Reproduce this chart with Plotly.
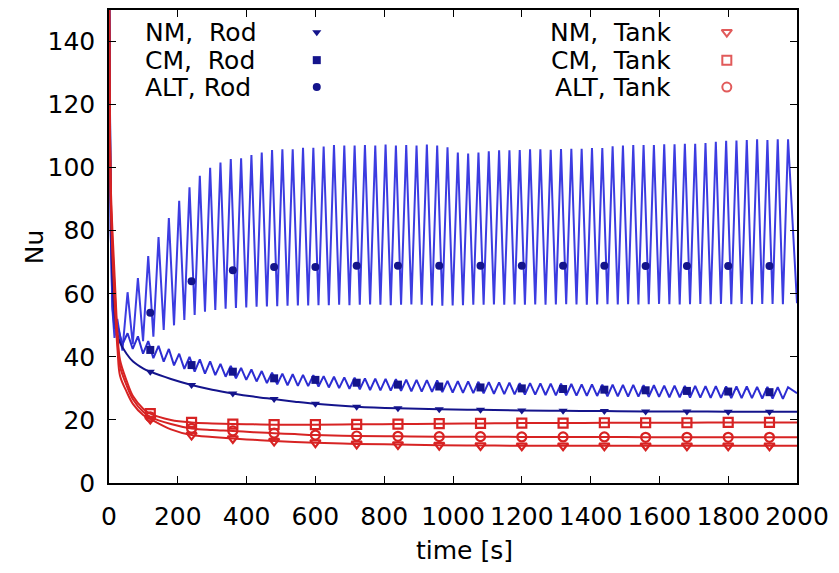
import plotly.graph_objects as go

# --- smooth curves (NM rod and the three tank curves), time in s ---
t_smooth = [0, 2, 5, 10, 17, 25, 32, 51, 70, 100, 120, 180, 240, 300, 360, 420,
            480, 540, 600, 720, 840, 960, 1080, 1200, 1320, 1440, 1560, 1680,
            1800, 1920, 2000]
nm_rod = [170, 125, 90, 65, 53, 47, 44.5, 41, 38.5, 36.3, 35.3, 33.0, 31.1, 29.6,
          28.4, 27.4, 26.6, 25.8, 25.1, 24.2, 23.7, 23.4, 23.2, 23.0, 22.9, 22.8,
          22.7, 22.7, 22.6, 22.6, 22.6]
cm_tank = [170, 120, 95, 80, 64, 47, 39, 32.5, 27.5, 23.5, 22.0, 20.0, 19.2, 18.9,
           18.7, 18.6, 18.5, 18.5, 18.5, 18.6, 18.7, 18.8, 18.9, 19.0, 19.0, 19.1,
           19.1, 19.1, 19.2, 19.2, 19.2]
alt_tank = [170, 118, 92, 76, 60, 45, 37, 31, 26.5, 22.5, 21.0, 18.7, 17.3, 16.8,
            16.5, 16.1, 15.8, 15.5, 15.2, 14.9, 14.8, 14.7, 14.7, 14.6, 14.6, 14.6,
            14.5, 14.5, 14.5, 14.5, 14.5]
nm_tank = [170, 115, 90, 72, 56, 42, 34, 29, 25, 21.5, 20.3, 17.0, 15.2, 14.6,
           14.1, 13.7, 13.3, 13.0, 12.8, 12.4, 12.2, 12.0, 11.9, 11.8, 11.8, 11.8,
           11.8, 11.8, 11.8, 11.8, 11.8]

# --- oscillating rod curves: start, then alternating peaks / troughs ---
t_start = [0, 2, 5, 10, 16]
alt_start = [170, 120, 80, 55, 46]
cm_start = [170, 120, 80, 56, 49]

peak_t = [24, 54, 84, 114, 144, 174, 204, 234, 264, 294, 324, 354, 384, 414, 444,
          474, 504, 534, 564, 594, 624, 654, 684, 714, 744, 774, 804, 834, 864,
          894, 924, 954, 984, 1014, 1044, 1074, 1104, 1134, 1164, 1194, 1224, 1254,
          1284, 1314, 1344, 1374, 1404, 1434, 1464, 1494, 1524, 1554, 1584, 1614,
          1644, 1674, 1704, 1734, 1764, 1794, 1824, 1854, 1884, 1914, 1944, 1974]
trough_t = [39, 69, 99, 129, 159, 189, 219, 249, 279, 309, 339, 369, 399, 429, 459,
            489, 519, 549, 579, 609, 639, 669, 699, 729, 759, 789, 819, 849, 879,
            909, 939, 969, 999, 1029, 1059, 1089, 1119, 1149, 1179, 1209, 1239,
            1269, 1299, 1329, 1359, 1389, 1419, 1449, 1479, 1509, 1539, 1569, 1599,
            1629, 1659, 1689, 1719, 1749, 1779, 1809, 1839, 1869, 1899, 1929, 1959]
t_end = 2000

alt_peak = [52, 60.5, 65, 72, 78, 84, 89.5, 93.8, 97.4, 100, 101.6, 102.7, 103, 104,
            104.8, 105.6, 105.8, 105.8, 106.3, 106.3, 106.7, 107.2, 107, 107,
            107.2, 107, 107.3, 107, 107.2, 107, 107.3, 107, 106.5,
            104.8, 104.5, 104.8, 105.2, 105.5,
            105.5, 105.6, 105.8, 105.8, 105.7, 105.9, 106, 106,
            106.2, 106.2,
            106.8, 107, 107.2, 107.2, 107.2, 107.4, 107.4, 107.6, 107.6, 107.8,
            108.2, 108.5, 108.6, 108.8, 109, 108.8, 109, 109]
alt_trough = [42, 44, 45, 46.4, 48.5, 50, 51.7, 53.3, 54.3, 54.9, 55.3, 55.5, 55.7,
              55.9, 56.0, 56.1, 56.2, 56.3, 56.3, 56.4,
              56.4, 56.5, 56.4, 56.5, 56.6, 56.5, 56.4, 56.5, 56.6, 56.5,
              56.3, 56.2, 56.3, 56.4, 56.5, 56.5, 56.6, 56.5, 56.6, 56.5,
              56.6, 56.5, 56.6, 56.7, 56.6, 56.5, 56.6, 56.7, 56.6, 56.7,
              56.6, 56.7, 56.8, 56.7, 56.6, 56.7, 56.8, 56.7, 56.8, 56.7,
              56.8, 56.7, 56.8, 56.8, 56.7]
alt_end = 57

cm_peak = [50, 47.5, 46.5, 45, 43.5, 42.5, 41, 40, 39.2, 38.6, 37.8, 37.1, 36.5,
           36.0, 35.5, 35.0, 34.7, 34.5, 34.3, 34.2, 33.9, 33.7, 33.5, 33.4,
           33.2, 33.1, 33.0, 32.9, 32.8, 32.7, 32.6, 32.5, 32.4, 32.3, 32.2, 32.1,
           32.0, 31.9, 31.8, 31.7, 31.7, 31.6, 31.5, 31.5, 31.4, 31.3, 31.3, 31.2,
           31.2, 31.1, 31.1, 31.0, 31.0, 30.9, 30.9, 30.8, 30.8, 30.7, 30.7, 30.6,
           30.6, 30.6, 30.5, 30.5, 30.4, 30.4]
cm_trough = [44, 42.5, 41, 39.6, 38.5, 37.3, 36.2, 35.3, 34.7, 34.2, 33.7, 33.2,
             32.7, 32.2, 31.7, 31.3, 31.0, 30.8, 30.7, 30.6, 30.3, 30.1, 29.9,
             29.7, 29.5, 29.4, 29.3, 29.2, 29.1, 29.0, 28.9, 28.8, 28.7, 28.6,
             28.5, 28.4, 28.3, 28.2, 28.1, 28.0, 28.0, 27.9, 27.8, 27.8, 27.7,
             27.6, 27.6, 27.5, 27.5, 27.4, 27.4, 27.3, 27.3, 27.2, 27.2, 27.1,
             27.1, 27.0, 27.0, 26.9, 26.9, 26.9, 26.8, 26.8, 26.7]
cm_end = 28.5

# --- point markers every 120 s ---
mark_t = [120, 240, 360, 480, 600, 720, 840, 960, 1080, 1200, 1320, 1440, 1560,
          1680, 1800, 1920]
alt_rod_mark = [54, 64, 67.5, 68.5, 68.5, 68.9, 68.9, 68.9, 68.9, 68.9, 68.9, 68.9,
                68.8, 68.8, 68.8, 68.8]
cm_rod_mark = [42.2, 37.4, 35.3, 33.2, 32.7, 31.8, 31.2, 30.6, 30.3, 30.0, 29.8,
               29.6, 29.4, 29.2, 29.0, 28.8]

legend_rod = ["NM,  Rod", "CM,  Rod", "ALT, Rod"]
legend_tank = ["NM,  Tank", "CM,  Tank", "ALT, Tank"]


def osc(start_t, start_v, peaks, troughs, end_v):
    xs, ys = list(start_t), list(start_v)
    for i in range(len(peak_t)):
        xs.append(peak_t[i]); ys.append(peaks[i])
        if i < len(trough_t):
            xs.append(trough_t[i]); ys.append(troughs[i])
    xs.append(t_end); ys.append(end_v)
    return xs, ys


def at_marks(vals):
    return [v for t, v in zip(t_smooth, vals) if t in mark_t]


BLUE = "rgb(45,45,210)"
NAVY = "rgb(20,20,140)"
RED = "rgb(215,35,35)"

fig = go.Figure()

ax, ay = osc(t_start, alt_start, alt_peak, alt_trough, alt_end)
cx, cy = osc(t_start, cm_start, cm_peak, cm_trough, cm_end)
fig.add_trace(go.Scatter(x=ax, y=ay, mode="lines", line=dict(color="rgb(60,60,225)", width=2)))
fig.add_trace(go.Scatter(x=cx, y=cy, mode="lines", line=dict(color=BLUE, width=2)))
fig.add_trace(go.Scatter(x=t_smooth, y=nm_rod, mode="lines", line=dict(color=NAVY, width=2, shape="spline")))

fig.add_trace(go.Scatter(x=mark_t, y=at_marks(nm_rod), mode="markers",
                         marker=dict(symbol="triangle-down", size=8, color=NAVY)))
fig.add_trace(go.Scatter(x=mark_t, y=cm_rod_mark, mode="markers",
                         marker=dict(symbol="square", size=8, color=NAVY)))
fig.add_trace(go.Scatter(x=mark_t, y=alt_rod_mark, mode="markers",
                         marker=dict(symbol="circle", size=8, color=NAVY)))

for vals, sym in [(cm_tank, "square-open"), (alt_tank, "circle-open"), (nm_tank, "triangle-down-open")]:
    fig.add_trace(go.Scatter(x=t_smooth, y=vals, mode="lines",
                             line=dict(color=RED, width=2, shape="spline")))
    fig.add_trace(go.Scatter(x=mark_t, y=at_marks(vals), mode="markers",
                             marker=dict(symbol=sym, size=9, color=RED, line=dict(width=2.2, color=RED))))

# legend keys (gnuplot style: text, then sample to the right)
row_y = [0.953, 0.894, 0.837]
rod_syms = ["triangle-down", "square", "circle"]
tank_syms = ["triangle-down-open", "square-open", "circle-open"]
fig.add_trace(go.Scatter(x=[0.302] * 3, y=row_y, xaxis="x2", yaxis="y2", mode="markers",
                         marker=dict(symbol=rod_syms, size=8, color=NAVY)))
fig.add_trace(go.Scatter(x=[0.898] * 3, y=row_y, xaxis="x2", yaxis="y2", mode="markers",
                         marker=dict(symbol=tank_syms, size=9, color="rgb(225,90,90)",
                                     line=dict(width=2, color="rgb(225,90,90)"))))
for i in range(3):
    fig.add_annotation(x=0.051, y=row_y[i], xref="paper", yref="paper", text=legend_rod[i],
                       showarrow=False, xanchor="left", yanchor="middle", height=26,
                       borderpad=0, font=dict(size=25))
    fig.add_annotation(x=0.818, y=row_y[i], xref="paper", yref="paper", text=legend_tank[i],
                       showarrow=False, xanchor="right", yanchor="middle", height=26,
                       borderpad=0, font=dict(size=25))

# axis titles
fig.add_annotation(x=-0.108, y=0.5, xref="paper", yref="paper", text="Nu", textangle=-90,
                   showarrow=False, xanchor="center", yanchor="middle")
fig.add_annotation(x=0.517, y=-0.142, xref="paper", yref="paper", text="time [s]",
                   showarrow=False, xanchor="center", yanchor="middle")

axis_style = dict(showline=True, linecolor="black", linewidth=1.5, mirror="ticks",
                  ticks="inside", ticklen=7, tickwidth=1.2, tickcolor="black",
                  showgrid=False, zeroline=False, automargin=False)
# the page adds an 8px body margin, so the figure is shifted up/left by that
fig.update_layout(
    width=839, height=573,
    margin=dict(l=101, r=50, t=2, b=98),
    plot_bgcolor="white", paper_bgcolor="white",
    showlegend=False,
    font=dict(family="DejaVu Sans, sans-serif", size=25, color="black"),
    xaxis=dict(range=[0, 2000], dtick=200, ticklabelstandoff=10, **axis_style),
    yaxis=dict(range=[0, 150], dtick=20, ticklabelstandoff=7, **axis_style),
    xaxis2=dict(range=[0, 1], overlaying="x", visible=False),
    yaxis2=dict(range=[0, 1], overlaying="y", visible=False),
)

fig.write_html("out.html")
